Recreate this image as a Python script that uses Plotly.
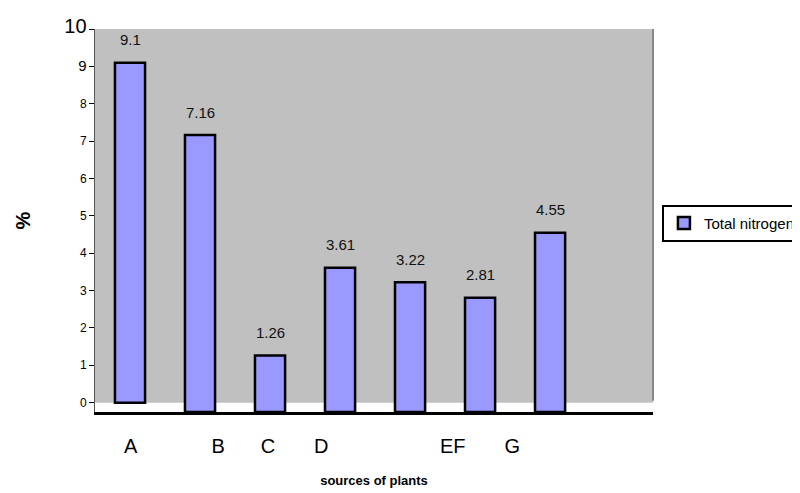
import plotly.graph_objects as go

categories = ["A", "B", "C", "D", "E", "F", "G"]
total_nitrogen = [9.1, 7.16, 1.26, 3.61, 3.22, 2.81, 4.55]
label_texts = ["9.1", "7.16", "1.26", "3.61", "3.22", "2.81", "4.55"]
tick_labels = ["A", "B", "C", "D", "EF", "G"]
tick_positions = [0.01, 1.26, 1.97, 2.73, 4.61, 5.46]
y_tick_vals = [0, 1, 2, 3, 4, 5, 6, 7, 8, 9, 10]

x_idx = list(range(len(categories)))
bases = [0] + [-0.25] * (len(categories) - 1)
heights = [v - b for v, b in zip(total_nitrogen, bases)]

fig = go.Figure()
fig.add_trace(go.Bar(
    x=x_idx, y=heights, base=bases, width=0.43,
    name="Total nitrogen",
    marker=dict(color="#9999FF", line=dict(color="black", width=2.5)),
    hovertext=categories,
))

for xi, v, t in zip(x_idx, total_nitrogen, label_texts):
    fig.add_annotation(x=xi, y=v, text=t, showarrow=False, yshift=23,
                       font=dict(family="Liberation Sans, Arial", size=15, color="#111"))

# gray plot background from 0 to 10
fig.add_shape(type="rect", xref="paper", yref="y", x0=0, x1=1, y0=0, y1=10,
              fillcolor="#C0C0C0", line=dict(width=0), layer="below")
fig.add_shape(type="line", xref="paper", yref="y", x0=1, x1=1, y0=0.05, y1=10,
              line=dict(color="#888", width=2), layer="below")

y_tick_text = []
for v in y_tick_vals:
    if v == 10:
        y_tick_text.append('<span style="font-size:20px">10</span>')
    elif v == 9:
        y_tick_text.append('<span style="font-size:15px">9</span>')
    else:
        y_tick_text.append(str(v))

fig.update_layout(
    width=792, height=485,
    margin=dict(l=87, r=147, t=21, b=81, autoexpand=False),
    paper_bgcolor="white", plot_bgcolor="white",
    font=dict(family="Liberation Sans, Arial", color="black"),
    bargap=0.4,
    showlegend=True,
    legend=dict(x=1.016, y=0.493, xanchor="left", yanchor="middle",
                bordercolor="black", borderwidth=2,
                font=dict(size=15), itemwidth=30),
    xaxis=dict(range=[-0.5, 7.47], tickmode="array", automargin=False,
               tickvals=tick_positions, ticktext=tick_labels,
               showgrid=False, zeroline=False,
               showline=True, linecolor="black", linewidth=3,
               ticks="outside", ticklen=14, tickcolor="rgba(0,0,0,0)",
               tickfont=dict(size=20),
               title=dict(text="<b>sources of plants</b>", font=dict(size=13), standoff=20)),
    yaxis=dict(range=[-0.25, 10], tickmode="array", tickvals=y_tick_vals, automargin=False,
               ticktext=y_tick_text, showgrid=False, zeroline=False,
               showline=True, linecolor="#555", linewidth=1,
               ticks="outside", ticklen=5, tickcolor="black",
               tickfont=dict(size=12),
               title=dict(text="<b>%</b>", font=dict(size=20), standoff=28)),
)

fig.write_html("out.html")
